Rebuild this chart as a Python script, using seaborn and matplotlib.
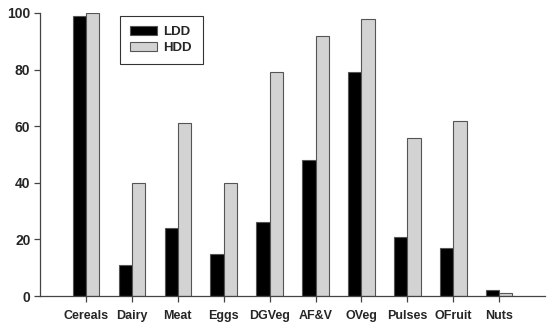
import pandas as pd
import matplotlib
matplotlib.use("Agg")
import matplotlib.pyplot as plt
import seaborn as sns

## data
categories = ['Cereals', 'Dairy', 'Meat', 'Eggs', 'DGVeg', 'AF&V', 'OVeg', 'Pulses', 'OFruit', 'Nuts']
ldd = [99, 11, 24, 15, 26, 48, 79, 21, 17, 2]
hdd = [100, 40, 61, 40, 79, 92, 98, 56, 62, 1]

df = pd.DataFrame({'Food': categories * 2,
                   'Value': ldd + hdd,
                   'Group': ['LDD'] * len(categories) + ['HDD'] * len(categories)})

sns.set_style('white')
plt.rcParams['font.family'] = ['Liberation Sans', 'DejaVu Sans']
plt.rcParams['font.weight'] = 'bold'

fig = plt.figure(figsize=(5.5, 3.25), dpi=100)
ax = fig.add_axes([0.073, 0.089, 0.918, 0.871])

sns.barplot(data=df, x='Food', y='Value', hue='Group', order=categories,
            hue_order=['LDD', 'HDD'], palette={'LDD': '#000000', 'HDD': '#d3d3d3'},
            width=0.58, gap=0, edgecolor='#555555', linewidth=0.8, ax=ax)

ax.set_xlim(-1, 10)
ax.set_ylim(0, 100)
ax.set_yticks([0, 20, 40, 60, 80, 100])
ax.set_xlabel('')
ax.set_ylabel('')
sns.despine(ax=ax)
for s in ['left', 'bottom']:
    ax.spines[s].set_color('#444444')
    ax.spines[s].set_linewidth(0.9)
ax.tick_params(axis='both', direction='out', length=4, width=0.9, color='#444444',
               bottom=True, left=True)
ax.tick_params(axis='y', labelsize=10, pad=3)
ax.tick_params(axis='x', labelsize=9, pad=6)
for lab in ax.get_xticklabels() + ax.get_yticklabels():
    lab.set_fontweight('bold')

leg = ax.legend(loc='upper left', bbox_to_anchor=(0.158, 0.99), frameon=True,
                fancybox=False, edgecolor='black', fontsize=9.5, borderaxespad=0,
                handlelength=2.0, handleheight=0.65, handletextpad=0.5,
                borderpad=0.8, labelspacing=0.25)
leg.get_frame().set_linewidth(0.8)
for t in leg.get_texts():
    t.set_fontweight('bold')

fig.savefig('out.png', dpi=100)
